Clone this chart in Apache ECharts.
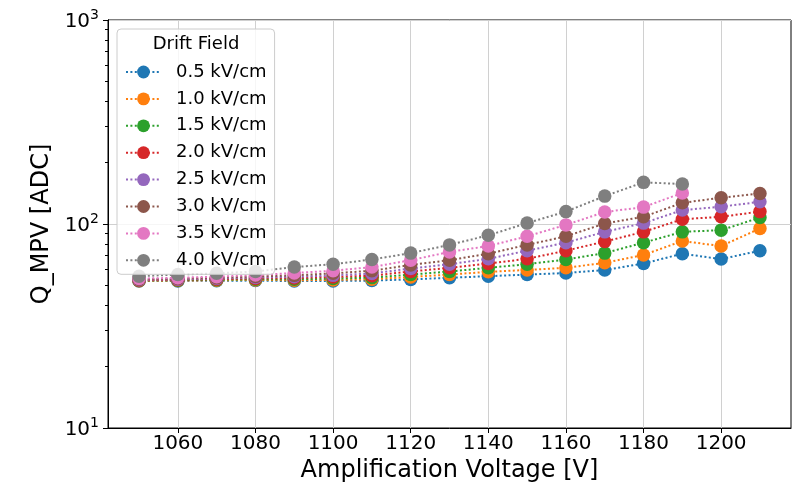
<!DOCTYPE html>
<html>
<head>
<meta charset="utf-8">
<script src="https://cdn.jsdelivr.net/npm/echarts@6/dist/echarts.min.js"></script>
<style>
  html, body { margin: 0; padding: 0; background: #ffffff; }
  #chart { width: 808px; height: 488px; }
</style>
</head>
<body>
<div id="chart"></div>
<script>
// Amplification voltage scan (V)
const voltages = [1050, 1060, 1070, 1080, 1090, 1100, 1110, 1120, 1130, 1140, 1150, 1160, 1170, 1180, 1190, 1200, 1210];

// Most probable charge value per drift field (ADC)
const field05 = [52.5, 52.6, 52.7, 52.8, 52.5, 52.6, 52.8, 53.5, 54.5, 55.5, 56.5, 57.5, 59.5, 64.0, 71.5, 67.3, 74.0];
const field10 = [52.7, 52.8, 53.0, 53.2, 53.0, 53.2, 53.6, 55.0, 56.5, 58.3, 59.5, 61.0, 64.5, 70.5, 82.5, 78.0, 95.0];
const field15 = [52.9, 53.0, 53.3, 53.6, 53.6, 54.0, 54.6, 56.5, 58.5, 61.0, 63.5, 67.0, 72.0, 81.0, 91.5, 93.3, 107.5];
const field20 = [53.0, 53.3, 53.6, 54.1, 54.3, 55.0, 55.8, 58.5, 61.0, 64.0, 67.5, 74.0, 82.0, 91.5, 105.5, 108.5, 115.0];
const field25 = [53.3, 53.6, 54.0, 54.7, 55.1, 56.0, 57.2, 60.5, 63.5, 67.5, 74.0, 81.0, 91.5, 101.0, 117.0, 121.5, 128.5];
const field30 = [53.6, 54.0, 54.5, 55.3, 56.0, 57.3, 59.0, 63.0, 66.5, 71.5, 79.0, 87.0, 100.5, 108.5, 127.0, 134.5, 141.0];
const field35 = [54.0, 54.5, 55.2, 56.2, 57.5, 59.0, 61.5, 66.5, 73.0, 78.0, 87.0, 99.0, 114.5, 121.0, 142.0];
const field40 = [55.5, 56.5, 57.3, 58.5, 61.5, 63.5, 67.0, 72.0, 79.0, 88.0, 101.0, 115.0, 137.0, 160.0, 157.0];

const seriesNames = ['0.5 kV/cm', '1.0 kV/cm', '1.5 kV/cm', '2.0 kV/cm', '2.5 kV/cm', '3.0 kV/cm', '3.5 kV/cm', '4.0 kV/cm'];
const seriesValues = [field05, field10, field15, field20, field25, field30, field35, field40];
const seriesColors = ['#1f77b4', '#ff7f0e', '#2ca02c', '#d62728', '#9467bd', '#8c564b', '#e377c2', '#7f7f7f'];

// Axis ticks
const xTicks = [1060, 1080, 1100, 1120, 1140, 1160, 1180, 1200];
const yMajorTicks = [10, 100, 1000];
const yMinorTicks = [20, 30, 40, 50, 60, 70, 80, 90, 200, 300, 400, 500, 600, 700, 800, 900];

const FONT = 'DejaVu Sans';
const GRID_BOX = { left: 108, right: 17, top: 20, bottom: 60 };

const series = seriesValues.map((vals, i) => ({
  name: seriesNames[i],
  type: 'line',
  xAxisIndex: 0,
  yAxisIndex: 0,
  z: 2 + i,
  data: vals.map((v, k) => [voltages[k], v]),
  symbol: 'circle',
  symbolSize: 13.5,
  showSymbol: true,
  itemStyle: { color: seriesColors[i] },
  lineStyle: { color: seriesColors[i], width: 2, type: [2, 2.4] },
  emphasis: { disabled: true },
  animation: false
}));

const minorTickPositions = yMinorTicks.map(v => Math.log10(v));

const chart = echarts.init(document.getElementById('chart'), null, { renderer: 'canvas' });

chart.setOption({
  backgroundColor: '#ffffff',
  animation: false,
  textStyle: { fontFamily: FONT },
  grid: [
    Object.assign({ show: true, borderColor: '#000000', borderWidth: 1, backgroundColor: 'transparent' }, GRID_BOX),
    // overlay grid holding the minor tick axis of the log scale
    Object.assign({ show: false }, GRID_BOX)
  ],
  xAxis: [
    {
      gridIndex: 0,
      type: 'value',
      min: 1042,
      max: 1218,
      name: 'Amplification Voltage [V]',
      nameLocation: 'middle',
      nameGap: 30,
      nameTextStyle: { fontSize: 24, color: '#000', fontFamily: FONT },
      axisLine: { show: true, lineStyle: { color: '#000', width: 1 } },
      axisTick: { show: true, length: 5, lineStyle: { color: '#000', width: 1 }, customValues: xTicks },
      axisLabel: {
        fontSize: 20, color: '#000', margin: 6, fontFamily: FONT, customValues: xTicks,
        formatter: function (v) { return String(v); }
      },
      splitLine: { show: true, lineStyle: { color: '#d0d0d0', width: 1 } }
    },
    {
      gridIndex: 1,
      type: 'value',
      min: 0,
      max: 1,
      show: false
    }
  ],
  yAxis: [
    {
      gridIndex: 0,
      type: 'log',
      logBase: 10,
      min: yMajorTicks[0],
      max: yMajorTicks[yMajorTicks.length - 1],
      name: 'Q_MPV [ADC]',
      nameLocation: 'middle',
      nameGap: 52,
      nameRotate: 90,
      nameTextStyle: { fontSize: 24, color: '#000', fontFamily: FONT },
      axisLine: { show: true, lineStyle: { color: '#000', width: 1 } },
      axisTick: { show: true, length: 5, lineStyle: { color: '#000', width: 1 } },
      axisLabel: {
        margin: 9,
        fontFamily: FONT,
        formatter: function (v) {
          const e = Math.round(Math.log10(v));
          return '{b|10}{s|' + e + '}';
        },
        rich: {
          b: { fontSize: 20, color: '#000', fontFamily: FONT, lineHeight: 24, verticalAlign: 'bottom' },
          s: { fontSize: 14, color: '#000', fontFamily: FONT, lineHeight: 24, verticalAlign: 'top', padding: [0, 0, 6, 0] }
        }
      },
      splitLine: { show: true, lineStyle: { color: '#d0d0d0', width: 1 } }
    },
    {
      // helper axis in log10 units, only carries the minor ticks
      gridIndex: 1,
      type: 'value',
      min: 1,
      max: 3,
      position: 'left',
      axisLine: { show: true, lineStyle: { color: '#000', width: 1 } },
      axisLabel: { show: false, customValues: minorTickPositions },
      splitLine: { show: false },
      axisTick: {
        show: true, length: 3, lineStyle: { color: '#000', width: 1 },
        customValues: minorTickPositions
      }
    }
  ],
  legend: {
    orient: 'vertical',
    left: 117,
    top: 29,
    z: 20,
    padding: [34, 8, 5, 8],
    itemWidth: 35,
    itemHeight: 16,
    itemGap: 8.9,
    backgroundColor: 'rgba(255,255,255,0.8)',
    borderColor: '#cccccc',
    borderWidth: 1,
    borderRadius: 4,
    textStyle: { fontSize: 18, color: '#000', fontFamily: FONT, lineHeight: 16, padding: [0, 0, 0, 10] },
    selectedMode: false,
    data: seriesNames
  },
  graphic: [
    {
      type: 'text',
      x: 196,
      y: 44,
      z: 100,
      style: {
        text: 'Drift Field',
        fontSize: 18,
        fontFamily: FONT,
        fill: '#000',
        textAlign: 'center',
        textVerticalAlign: 'middle'
      }
    }
  ],
  series: series
});
</script>
</body>
</html>
